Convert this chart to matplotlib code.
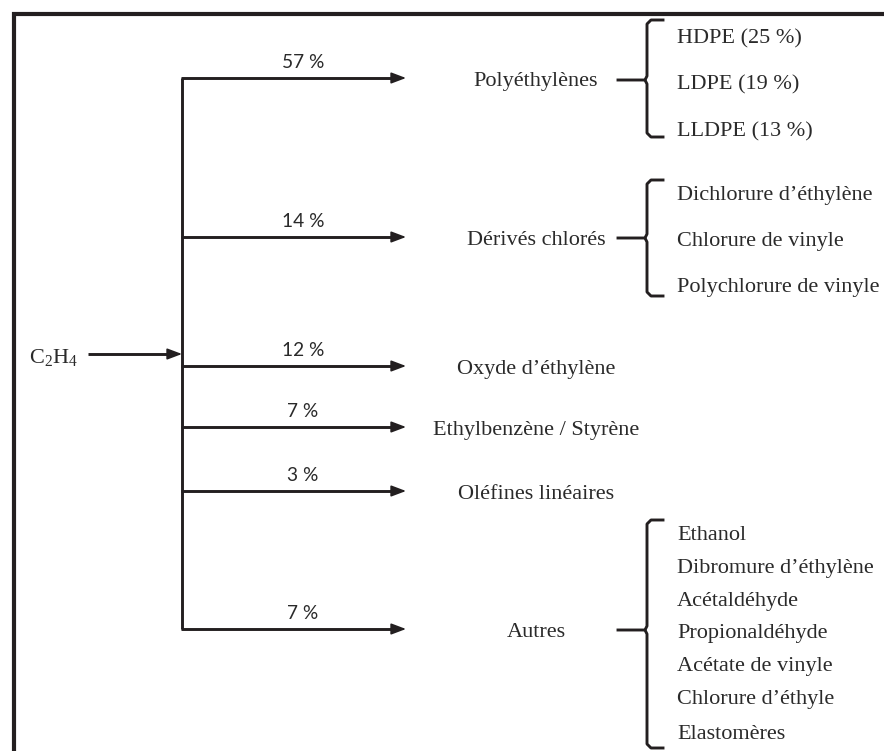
import matplotlib
matplotlib.use("Agg")
import matplotlib.pyplot as plt
from matplotlib.patches import FancyArrowPatch

plt.rcParams["mathtext.fontset"] = "custom"
plt.rcParams["mathtext.rm"] = "Liberation Serif"
plt.rcParams["mathtext.it"] = "Liberation Serif:italic"

# ---- data ----
source = r"$\mathrm{C_2H_4}$"
categories = ["Polyéthylènes", "Dérivés chlorés", "Oxyde d\u2019éthylène",
              "Ethylbenzène / Styrène", "Oléfines linéaires", "Autres"]
shares = [57, 14, 12, 7, 3, 7]
sub_poly = ["HDPE (25 %)", "LDPE (19 %)", "LLDPE (13 %)"]
sub_chlor = ["Dichlorure d\u2019éthylène", "Chlorure de vinyle", "Polychlorure de vinyle"]
sub_autres = ["Ethanol", "Dibromure d\u2019éthylène", "Acétaldéhyde", "Propionaldéhyde",
              "Acétate de vinyle", "Chlorure d\u2019éthyle", "Elastomères"]

# ---- layout ----
W, H = 884, 751
fig = plt.figure(figsize=(W / 100, H / 100), dpi=100)
ax = fig.add_axes([0, 0, 1, 1])
ax.set_xlim(0, W)
ax.set_ylim(H, 0)
ax.axis("off")

col = "#231f20"
tcol = "#2a2a2a"
serif = "Liberation Serif"
sans = ["Lato", "DejaVu Sans"]
fs_serif = 16.0
fs_pct = 13.8
lw = 2.1
dy = 2.5  # text vertical nudge

# frame (left and top)
ax.plot([14, 14, W + 5], [H + 5, 14, 14], color=col, lw=3.0, solid_capstyle="butt",
        solid_joinstyle="miter")

branch_y = [78, 237, 366, 427, 491, 629]
trunk_x = 182
arrow_end = 406
label_x = 536

# trunk
ax.plot([trunk_x, trunk_x], [branch_y[0], branch_y[-1]], color=col, lw=lw,
        solid_capstyle="butt")

def arrow(x0, x1, y):
    a = FancyArrowPatch((x0, y), (x1, y), arrowstyle="-|>,head_length=0.45,head_width=0.17",
                        mutation_scale=20, color=col, lw=1.2, shrinkA=0, shrinkB=0)
    ax.add_patch(a)

# source
ax.text(29, 355 + dy, source, fontsize=fs_serif, ha="left", va="center", color=tcol)
ax.plot([88, trunk_x - 6], [354, 354], color=col, lw=lw, solid_capstyle="butt")
arrow(trunk_x - 8, trunk_x, 354)

for y, cat, s in zip(branch_y, categories, shares):
    ax.plot([trunk_x - 1, arrow_end - 6], [y, y], color=col, lw=lw,
            solid_capstyle="butt")
    arrow(arrow_end - 8, arrow_end, y)
    ax.text(303, y - 7, f"{s} %", fontfamily=sans, fontsize=fs_pct, ha="center",
            va="bottom", color=tcol)
    ax.text(label_x, y + 1 + dy, cat, fontfamily=serif, fontsize=fs_serif, ha="center",
            va="center", color=tcol)

def bracket(y_top, y_bot, y_mid, items, ys):
    xb = 647
    xl = 618
    xr = 663
    r = 4
    ax.plot([xr, xb + r, xb, xb, xb - 2, xl], [y_top, y_top, y_top + r, y_mid - 4, y_mid, y_mid],
            color=col, lw=lw, solid_joinstyle="round")
    ax.plot([xb - 2, xb, xb, xb + r, xr], [y_mid, y_mid + 4, y_bot - r, y_bot, y_bot],
            color=col, lw=lw, solid_joinstyle="round")
    for t, yy in zip(items, ys):
        ax.text(677, yy + dy, t, fontfamily=serif, fontsize=fs_serif, ha="left", va="center",
                color=tcol)

bracket(20, 137, branch_y[0] + 2, sub_poly, [36, 82, 129])
bracket(180, 296, branch_y[1] + 1, sub_chlor, [193, 239, 285])
bracket(520, 748, branch_y[5] + 1, sub_autres, [533, 566, 599, 631, 664, 697, 732])

fig.savefig("out.png", dpi=100)
